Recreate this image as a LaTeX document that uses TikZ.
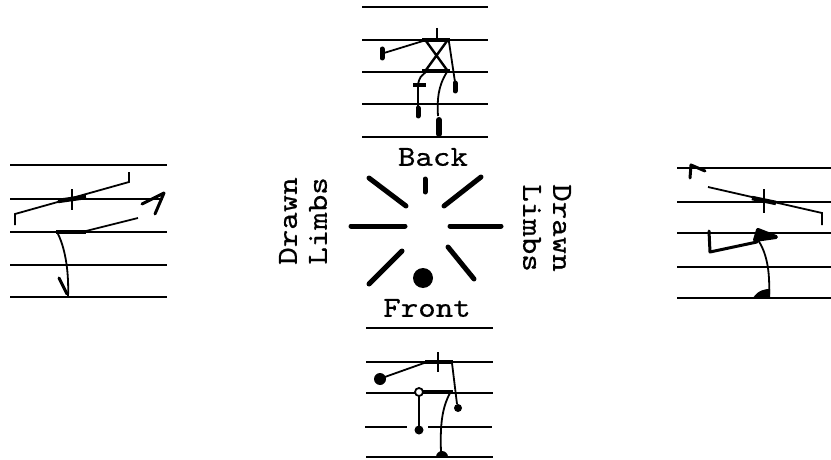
\documentclass[tikz,border=0pt]{standalone}
\usepackage{fontspec}
\setmonofont{lmmono10-regular.otf}[FakeStretch=1.15, FakeBold=0.6]
\usetikzlibrary{arrows.meta}

\begin{document}
\begin{tikzpicture}[
    x=1pt, y=-1pt,
    staff/.style={line width=1.6pt},
    limb/.style={line width=1.8pt},
    bar/.style={line width=4.5pt},
    ray/.style={line width=5pt, line cap=round},
    hook/.style={line width=3pt, line cap=round, line join=round},
    lbl/.style={font=\ttfamily\fontsize{29}{30}\selectfont, inner sep=0pt, align=left}
]
\useasboundingbox (0,0) rectangle (831,460);

% staves
\foreach \y in {7,40,72,104,137} \draw[staff] (362,\y) -- (488,\y);
\foreach \y in {328,362,393,457} \draw[staff] (366,\y) -- (493,\y);
\draw[staff] (365,427) -- (407,427) (428,427) -- (492,427);
\foreach \y in {165,232,265,297} \draw[staff] (10,\y) -- (167,\y);
\draw[staff] (10,199) -- (163,199);
\foreach \y in {168,202,233,267,298} \draw[staff] (677,\y) -- (831,\y);

% back figure
\draw[limb] (437,28) -- (437,40);
\draw[bar] (422,40) -- (450,40);
\draw[limb] (423,41) -- (384,53);
\draw[ray] (382,49) -- (382,58);
\draw[limb, line width=2.4pt] (426,41) -- (447,70) (447,41) -- (426,70);
\draw[bar] (422,71) -- (450,71);
\draw[limb] (449,42) -- (455,82);
\draw[ray] (455,83) -- (455,91);
\draw[limb] (426,72) .. controls (420,77) .. (418,84);
\draw[line width=3.5pt] (413,85) -- (426,85);
\draw[limb] (418,85) -- (418,106);
\draw[ray] (418,108) -- (418,116);
\draw[limb] (447,72) .. controls (438,86) and (437,100) .. (438,116);
\draw[line width=6pt, line cap=round] (439,120) -- (439,134);

% centre sign
\draw[ray] (425,179) -- (425,192);
\draw[ray] (369,178) -- (406,206);
\draw[ray] (481,177) -- (444,206);
\draw[ray] (351,226) -- (405,226);
\draw[ray] (450,226) -- (501,226);
\draw[ray] (402,251) -- (369,284);
\draw[ray] (448,247) -- (474,279);
\fill (423,278) circle (10pt);

% front figure
\draw[bar] (425,362) -- (453,362);
\draw[limb] (438,352) -- (438,372);
\draw[limb] (427,362) -- (382,378);
\fill (380,379) circle (6pt);
\draw[limb] (452,363) -- (457,404);
\fill (458,408) circle (4pt);
\draw[bar] (421,392) -- (453,392);
\draw[limb] (419,396) -- (419,427);
\fill (419,430) circle (4.5pt);
\draw[limb, fill=white] (419,392) circle (4pt);
\draw[limb] (450,393) .. controls (442,408) and (440,425) .. (441,452);
\fill (436,457) arc[start angle=180, end angle=0, radius=6pt] -- cycle;

% left figure
\draw[limb] (15,225) -- (15,214) -- (129,182) -- (129,172);
\draw[bar] (58,201) -- (86,197);
\draw[limb] (72,189) -- (72,210);
\draw[hook] (142,204) -- (164,193) -- (155,214);
\draw[bar] (56,232) -- (86,232);
\draw[limb] (86,231) -- (138,218);
\draw[limb] (58,234) .. controls (66,250) and (69,275) .. (68,297);
\draw[hook] (59,278) -- (67,294);
\draw[line width=2.4pt] (124,265) -- (140,265);

% right figure
\draw[hook] (690,178) -- (691,165) -- (705,171);
\draw[limb] (708,187) -- (822,213) -- (822,225);
\draw[bar] (752,198) -- (776,203);
\draw[limb] (764,189) -- (764,213);
\draw[hook] (709,231) -- (710,252) -- (757,242);
\filldraw[line width=4pt, line join=round] (755,240) -- (758,230) -- (776,237) -- cycle;
\draw[limb] (758,240) .. controls (768,255) and (770,275) .. (769,297);
\fill (753,298) .. controls (758,290) and (765,289) .. (770,289) -- (770,298) -- cycle;

% labels
\node[lbl] (back) at (433,157) {Back};
\node[lbl] (front) at (427,308) {Front};
\node[lbl, rotate=90] (limbsL) at (303,221) {Drawn\\Limbs};
\node[lbl, rotate=-90] (limbsR) at (547,228) {Drawn\\Limbs};
\end{tikzpicture}
\end{document}
